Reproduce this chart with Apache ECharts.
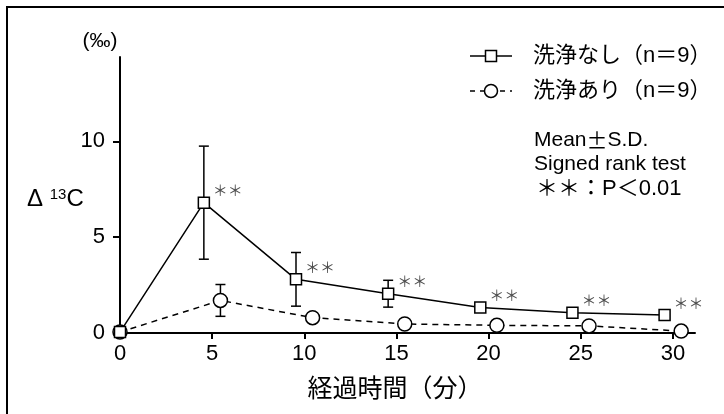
<!DOCTYPE html>
<html>
<head>
<meta charset="utf-8">
<script src="https://cdn.jsdelivr.net/npm/echarts@6/dist/echarts.min.js"></script>
<style>
  html, body { margin: 0; padding: 0; background: #fff; }
  #chart { width: 724px; height: 414px; }
</style>
</head>
<body>
<div id="chart"></div>
<script>
// Elapsed time after ingestion (min)
const times = [0, 5, 10, 15, 20, 25, 30];
// Without washing (n=9): mean and S.D. of Δ13C (‰)
const unwashedMean = [0.05, 6.8, 2.8, 2.05, 1.33, 1.06, 0.94];
const unwashedSD   = [0,    2.95, 1.4, 0.7,  0.15, 0.12, 0.1];
// With washing (n=9)
const washedMean = [0.05, 1.7, 0.8, 0.47, 0.4, 0.37, 0.1];
const washedSD   = [0,    0.83, 0,   0,    0,   0,    0];
// Signed rank test, P<0.01 marks
const significant = [false, true, true, true, true, true, true];
const xTicks = [0, 5, 10, 15, 20, 25, 30];
const yTicks = [0, 5, 10];
const seriesNames = ['洗浄なし（n＝9）', '洗浄あり（n＝9）'];

const FONT = '"Liberation Sans", "Noto Sans CJK JP", sans-serif';
const CJK = '"Noto Sans CJK JP", sans-serif';
const DODGE = 0.45;   // horizontal offset between the two groups at each time

const xs = (sign) => times.map(t => t === 0 ? 0 : t + sign * DODGE);
const xU = xs(-1), xW = xs(1);

const unwashedPts = times.map((t, i) => [xU[i], unwashedMean[i]]);
const washedPts = times.map((t, i) => [xW[i], washedMean[i]]);
const errU = times.map((t, i) => [xU[i], unwashedMean[i] - unwashedSD[i], unwashedMean[i] + unwashedSD[i]])
  .filter((d, i) => unwashedSD[i] > 0);
const errW = times.map((t, i) => [xW[i], washedMean[i] - washedSD[i], washedMean[i] + washedSD[i]])
  .filter((d, i) => washedSD[i] > 0);
const sigPts = unwashedPts.filter((d, i) => significant[i]);

function errorBar(params, api) {
  const x = api.value(0);
  const lo = api.coord([x, api.value(1)]);
  const hi = api.coord([x, api.value(2)]);
  const w = 5;
  const style = { stroke: '#000', lineWidth: 1.5, fill: null };
  return {
    type: 'group',
    children: [
      { type: 'line', shape: { x1: hi[0], y1: hi[1], x2: lo[0], y2: lo[1] }, style },
      { type: 'line', shape: { x1: hi[0] - w, y1: hi[1], x2: hi[0] + w, y2: hi[1] }, style },
      { type: 'line', shape: { x1: lo[0] - w, y1: lo[1], x2: lo[0] + w, y2: lo[1] }, style }
    ]
  };
}

// Key: sample line with its marker, followed by the series name
function legendRow(y, name, dashed, marker) {
  const stroke = { stroke: '#000', lineWidth: 1.5, fill: null, lineDash: dashed ? [5, 5] : null };
  return {
    type: 'group', x: 470, y: y, silent: true,
    children: [
      { type: 'line', shape: { x1: 0, y1: 0, x2: 42, y2: 0 }, style: stroke },
      marker,
      { type: 'text', x: 63, y: 0, style: { text: name, fontSize: 22, fontFamily: FONT, fill: '#000', verticalAlign: 'middle' } }
    ]
  };
}
const markerStyle = { fill: '#fff', stroke: '#000', lineWidth: 1.5 };

const chart = echarts.init(document.getElementById('chart'), null, { renderer: 'canvas' });
chart.setOption({
  animation: false,
  backgroundColor: '#fff',
  textStyle: { fontFamily: FONT, color: '#000' },
  grid: { left: 120, right: 29, top: 57, bottom: 81, containLabel: false },
  xAxis: {
    type: 'value', min: 0, max: 31.2, interval: 5,
    axisLine: { lineStyle: { color: '#000', width: 2 } },
    axisTick: { length: 6, lineStyle: { color: '#000', width: 2 }, customValues: xTicks },
    axisLabel: { fontSize: 22, color: '#000', fontFamily: FONT, margin: 10, customValues: xTicks },
    splitLine: { show: false }
  },
  yAxis: {
    type: 'value', min: 0, max: 14.4, interval: 5,
    axisLine: { show: true, lineStyle: { color: '#000', width: 2 } },
    axisTick: { show: true, length: 7, lineStyle: { color: '#000', width: 2 }, customValues: yTicks },
    axisLabel: { fontSize: 22, color: '#000', fontFamily: FONT, margin: 15, customValues: yTicks },
    splitLine: { show: false }
  },
  series: [
    { type: 'custom', renderItem: errorBar, data: errU, z: 1, silent: true },
    { type: 'custom', renderItem: errorBar, data: errW, z: 1, silent: true },
    {
      name: seriesNames[1], type: 'line', data: washedPts, z: 2,
      symbol: 'circle', symbolSize: 14, showAllSymbol: true,
      lineStyle: { color: '#000', width: 1.5, type: [6, 5] },
      itemStyle: { color: '#fff', borderColor: '#000', borderWidth: 1.5 }
    },
    {
      name: seriesNames[0], type: 'line', data: unwashedPts, z: 3,
      symbol: 'rect', symbolSize: 11, showAllSymbol: true,
      lineStyle: { color: '#000', width: 1.5 },
      itemStyle: { color: '#fff', borderColor: '#000', borderWidth: 1.5 }
    },
    {
      type: 'scatter', data: sigPts, symbolSize: 0, z: 4, silent: true,
      label: {
        show: true, formatter: '＊＊', position: 'right', offset: [4, -12],
        fontSize: 15, color: '#222', fontFamily: CJK
      }
    }
  ],
  graphic: [
    // outer frame
    { type: 'rect', shape: { x: 7, y: 7, width: 740, height: 440 }, style: { fill: null, stroke: '#000', lineWidth: 2 }, silent: true },
    { type: 'text', x: 100, y: 41, style: { text: '(‰)', fontSize: 21, fontFamily: FONT, fill: '#000', align: 'center', verticalAlign: 'middle' } },
    { type: 'text', x: 27, y: 199, style: {
        text: '{d|Δ }{s|13}{c|C}', fontFamily: FONT, fill: '#000', verticalAlign: 'middle',
        rich: {
          d: { fontSize: 24, fontFamily: FONT, verticalAlign: 'bottom' },
          s: { fontSize: 15, fontFamily: FONT, verticalAlign: 'top', padding: [0, 0, 9, 0] },
          c: { fontSize: 24, fontFamily: FONT, verticalAlign: 'bottom' }
        }
      } },
    { type: 'text', x: 395, y: 390, style: { text: '経過時間（分）', fontSize: 25, fontFamily: FONT, fill: '#000', align: 'center', verticalAlign: 'middle' } },
    legendRow(56, seriesNames[0], false,
      { type: 'rect', shape: { x: 15.5, y: -5.5, width: 11, height: 11 }, style: markerStyle }),
    legendRow(91, seriesNames[1], true,
      { type: 'circle', shape: { cx: 21, cy: 0, r: 6.5 }, style: markerStyle }),
    { type: 'text', x: 534, y: 140, style: {
        text: 'Mean{pm|±}S.D.', fontSize: 21, fontFamily: FONT, fill: '#000', verticalAlign: 'middle',
        rich: { pm: { fontSize: 21, fontFamily: CJK } } } },
    { type: 'text', x: 534, y: 164, style: { text: 'Signed rank test', fontSize: 21, fontFamily: FONT, fill: '#000', verticalAlign: 'middle' } },
    { type: 'text', x: 536, y: 189, style: { text: '＊＊：P＜0.01', fontSize: 22, fontFamily: FONT, fill: '#000', verticalAlign: 'middle' } }
  ]
});
</script>
</body>
</html>
